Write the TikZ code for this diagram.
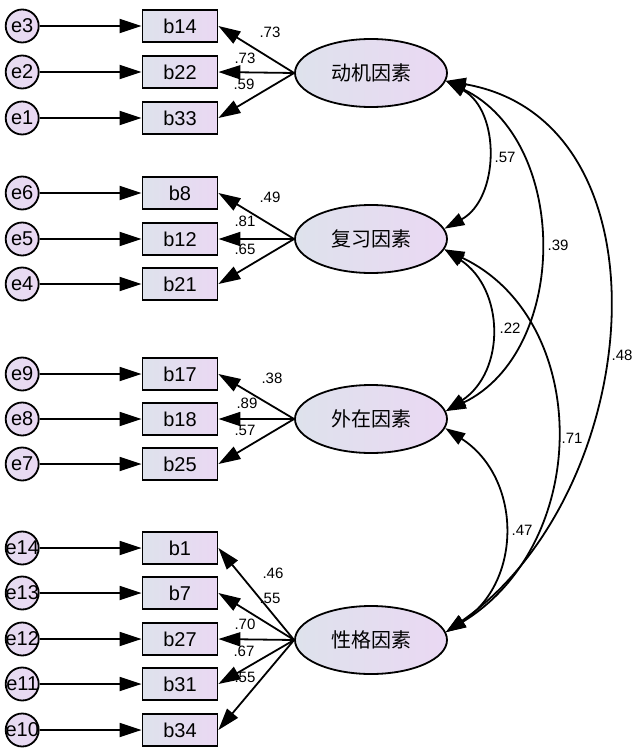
\documentclass[tikz,border=0pt]{standalone}
\usepackage{fontspec}
\setmainfont{Liberation Sans}
\newfontfamily\cjk{Noto Sans CJK SC}
\usetikzlibrary{arrows.meta,positioning,shapes.geometric}
\definecolor{shadeL}{RGB}{222,226,236}
\definecolor{shadeR}{RGB}{234,216,243}
\tikzset{
  item/.style={draw,rectangle,minimum width=75,minimum height=32,inner sep=0,left color=shadeL,right color=shadeR,font=\fontsize{20}{20}\selectfont},
  err/.style={draw,circle,minimum size=33,inner sep=-3pt,left color=shadeR!60!shadeL,right color=shadeR,font=\fontsize{20}{20}\selectfont},
  factor/.style={draw,ellipse,minimum width=152,minimum height=68,inner sep=0,left color=shadeL,right color=shadeR,font=\cjk\fontsize{20}{20}\selectfont},
  load/.style={-{Triangle[length=22pt,width=14pt]}},
  covar/.style={{Triangle[length=20pt,width=13pt]}-{Triangle[length=20pt,width=13pt]}},
  coef/.style={font=\fontsize{15}{15}\selectfont}
}
\begin{document}
\begin{tikzpicture}[x=1pt,y=-1pt,line width=1.8pt]
\useasboundingbox (0,0) rectangle (633,749);
% factors
\node[factor] (f1) at (371,73) {动机因素};
\node[factor] (f2) at (371,239) {复习因素};
\node[factor] (f3) at (371,419) {外在因素};
\node[factor] (f4) at (371,640) {性格因素};
% observed items
\node[item] (b14) at (180,26) {b14};
\node[item] (b22) at (180,72) {b22};
\node[item] (b33) at (180,118) {b33};
\node[item] (b8) at (180,193) {b8};
\node[item] (b12) at (180,239) {b12};
\node[item] (b21) at (180,284) {b21};
\node[item] (b17) at (180,374) {b17};
\node[item] (b18) at (180,419) {b18};
\node[item] (b25) at (180,464) {b25};
\node[item] (b1) at (180,548) {b1};
\node[item] (b7) at (180,593) {b7};
\node[item] (b27) at (180,639) {b27};
\node[item] (b31) at (180,684) {b31};
\node[item] (b34) at (180,730) {b34};
% errors
\node[err,left=102 of b14] (e3) {e3};
\node[err,left=102 of b22] (e2) {e2};
\node[err,left=102 of b33] (e1) {e1};
\node[err,left=102 of b8] (e6) {e6};
\node[err,left=102 of b12] (e5) {e5};
\node[err,left=102 of b21] (e4) {e4};
\node[err,left=102 of b17] (e9) {e9};
\node[err,left=102 of b18] (e8) {e8};
\node[err,left=102 of b25] (e7) {e7};
\node[err,left=102 of b1] (e14) {e14};
\node[err,left=102 of b7] (e13) {e13};
\node[err,left=102 of b27] (e12) {e12};
\node[err,left=102 of b31] (e11) {e11};
\node[err,left=102 of b34] (e10) {e10};
\draw[load] (e3) to (b14);
\draw[load] (e2) to (b22);
\draw[load] (e1) to (b33);
\draw[load] (e6) to (b8);
\draw[load] (e5) to (b12);
\draw[load] (e4) to (b21);
\draw[load] (e9) to (b17);
\draw[load] (e8) to (b18);
\draw[load] (e7) to (b25);
\draw[load] (e14) to (b1);
\draw[load] (e13) to (b7);
\draw[load] (e12) to (b27);
\draw[load] (e11) to (b31);
\draw[load] (e10) to (b34);
% loadings
\draw[load] (f1.west) to (b14.east);
\draw[load] (f1.west) to (b22.east);
\draw[load] (f1.west) to (b33.east);
\draw[load] (f2.west) to (b8.east);
\draw[load] (f2.west) to (b12.east);
\draw[load] (f2.west) to (b21.east);
\draw[load] (f3.west) to (b17.east);
\draw[load] (f3.west) to (b18.east);
\draw[load] (f3.west) to (b25.east);
\draw[load] (f4.west) to (b1.east);
\draw[load] (f4.west) to (b7.east);
\draw[load] (f4.west) to (b27.east);
\draw[load] (f4.west) to (b31.east);
\draw[load] (f4.west) to (b34.east);
\node[coef] (w14) at (270,32) {.73};
\node[coef] (w22) at (245,58) {.73};
\node[coef] (w33) at (244,84) {.59};
\node[coef] (w8) at (270,197) {.49};
\node[coef] (w12) at (245,221) {.81};
\node[coef] (w21) at (245,249) {.65};
\node[coef] (w17) at (272,378) {.38};
\node[coef] (w18) at (247,403) {.89};
\node[coef] (w25) at (245,430) {.57};
\node[coef] (w1) at (273,573) {.46};
\node[coef] (w7) at (270,598) {.55};
\node[coef] (w27) at (245,624) {.70};
\node[coef] (w31) at (244,651) {.67};
\node[coef] (w34) at (245,677) {.55};
% covariances
\draw[covar] (f1.-6) .. controls +(55,30) and +(55,-30) .. (f2.8);
\draw[covar] (f1.-6) .. controls +(124,60) and +(124,-60) .. (f3.6);
\draw[covar] (f1.-6) .. controls +(230,40) and +(200,-140) .. (f4.6);
\draw[covar] (f2.-8) .. controls +(60,40) and +(60,-40) .. (f3.6);
\draw[covar] (f2.-8) .. controls +(147,70) and +(147,-90) .. (f4.6);
\draw[covar] (f3.-7) .. controls +(77,50) and +(77,-50) .. (f4.6);
\node[coef] (c12) at (505,157) {.57};
\node[coef] (c13) at (558,245) {.39};
\node[coef] (c14) at (622,355) {.48};
\node[coef] (c23) at (510,328) {.22};
\node[coef] (c24) at (572,438) {.71};
\node[coef] (c34) at (522,530) {.47};
\end{tikzpicture}
\end{document}
